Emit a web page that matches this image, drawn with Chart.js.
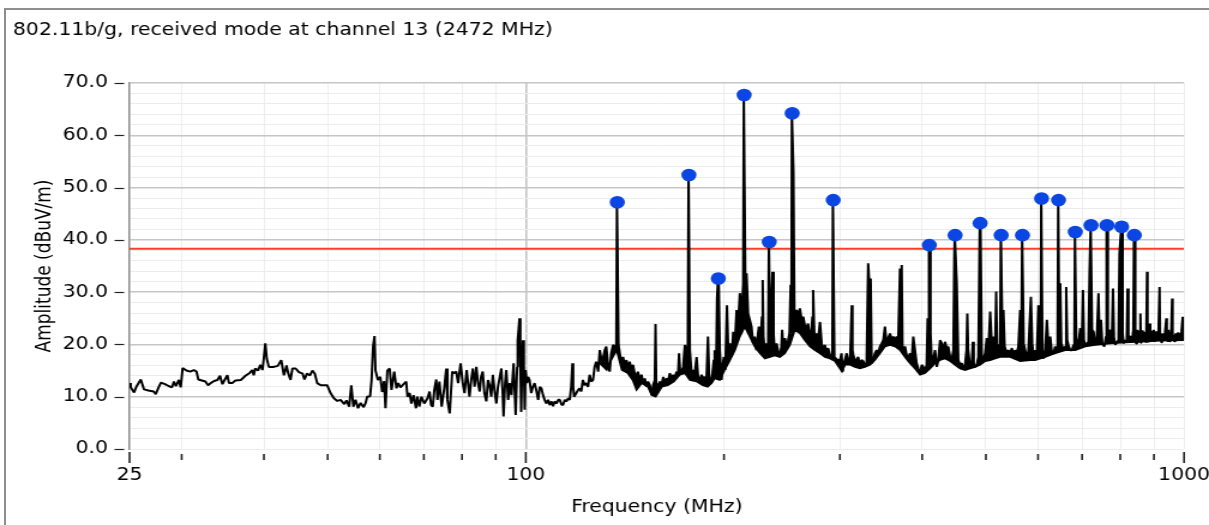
<!DOCTYPE html>
<html>
<head>
<meta charset="utf-8">
<script src="https://cdn.jsdelivr.net/npm/chart.js@4/dist/chart.umd.min.js"></script>
<style>
  html, body { margin: 0; padding: 0; background: #fff; overflow: hidden; }
  #wrap { position: relative; width: 1209px; height: 525px; overflow: hidden; }
  #frame { position: absolute; left: 4px; top: 8px; width: 1230px; height: 540px;
           border-left: 2px solid #8e8e8e; border-top: 2px solid #8e8e8e; }
  canvas { position: absolute; left: 0; top: 0; }
</style>
</head>
<body>
<div id="wrap">
  <div id="frame"></div>
  <canvas id="c" width="1008" height="525" style="width:1209px;height:525px"></canvas>
</div>
<script>
// ---- spectrum data ----
const chartTitle = '802.11b/g, received mode at channel 13 (2472 MHz)';
const xTitle = 'Frequency (MHz)';
const yTitle = 'Amplitude (dBuV/m)';

// measured sweep: frequency (MHz) and level (dBuV/m)
const traceFreq = [
  25.0, 25.1, 25.4, 25.6, 26.0, 26.3, 26.7, 27.2, 27.4, 27.7,
  27.9, 28.3, 28.7, 29.0, 29.2, 29.4, 29.7, 29.9, 30.1, 30.5,
  30.9, 31.3, 31.6, 31.8, 32.2, 32.6, 32.9, 33.3, 33.6, 34.0,
  34.3, 34.6, 34.9, 35.2, 35.4, 35.8, 36.2, 36.9, 37.5, 38.1,
  38.4, 38.6, 38.8, 39.2, 39.5, 39.8, 40.0, 40.2, 40.4, 40.7,
  41.4, 42.0, 42.5, 42.9, 43.3, 43.5, 43.9, 44.2, 44.7, 45.2,
  45.8, 46.1, 46.5, 47.0, 47.4, 47.8, 48.2, 48.8, 49.9, 50.5,
  51.1, 51.7, 52.3, 53.0, 53.4, 53.9, 54.3, 54.7, 55.1, 55.6,
  56.1, 56.7, 57.1, 57.4, 58.0, 58.3, 58.6, 58.9, 59.1, 59.6,
  60.1, 60.5, 60.9, 61.2, 61.6, 62.1, 62.5, 63.1, 63.6, 64.0,
  64.5, 65.2, 65.8, 66.1, 66.6, 67.0, 67.5, 68.1, 68.4, 68.9,
  69.4, 70.1, 70.9, 71.4, 71.8, 72.2, 72.6, 73.1, 73.4, 73.9,
  74.5, 75.2, 75.7, 76.0, 76.6, 77.3, 77.8, 78.4, 78.9, 79.6,
  80.2, 80.7, 81.3, 82.1, 82.6, 83.1, 83.6, 84.1, 84.6, 85.1,
  85.5, 86.0, 86.5, 87.1, 87.6, 88.1, 88.6, 89.1, 89.6, 90.2,
  90.7, 91.2, 91.8, 92.2, 92.5, 93.0, 93.4, 94.0, 94.5, 95.1,
  95.8, 96.5, 97.0, 97.2, 97.5, 97.8, 98.1, 98.4, 98.7, 99.0,
  99.3, 99.6, 99.9, 100.4, 100.8, 101.3, 101.9, 102.5, 103.1, 103.7,
  104.4, 105.0, 105.6, 106.2, 106.8, 107.4, 108.1, 108.7, 109.4, 110.0,
  110.6, 111.3, 112.0, 112.6, 113.3, 113.9, 114.6, 115.2, 116.0, 116.6,
  117.2, 117.7, 118.0, 118.4, 119.3, 120.1, 120.7, 121.4, 122.1, 122.8,
  123.5, 124.3, 125.0, 125.7, 126.5, 127.2, 127.9, 128.8, 129.5, 130.3,
  131.0, 131.8, 132.5, 133.4, 134.1, 134.8, 135.7, 136.4, 137.2, 138.3,
  138.9, 139.7, 140.5, 141.3, 142.2, 142.9, 143.8, 144.7, 145.5, 146.3,
  147.2, 148.0, 149.0, 149.9, 150.7, 151.6, 152.5, 153.3, 154.3, 155.2,
  156.1, 157.0, 157.4, 157.8, 158.8, 159.8, 160.8, 161.7, 162.6, 163.6,
  164.4, 165.5, 166.5, 167.4, 168.4, 169.4, 170.3, 170.9, 171.6, 172.4,
  173.4, 174.4, 175.4, 176.2, 177.5, 178.6, 179.6, 180.6, 181.7, 182.7,
  183.8, 184.9, 185.9, 187.0, 188.1, 189.1, 189.9, 191.0, 192.1, 193.0,
  193.6, 194.5, 195.2, 197.1, 198.3, 199.2, 199.9, 200.9, 202.1, 203.0,
  204.2, 205.4, 206.6, 207.8, 209.0, 210.1, 211.4, 212.7, 213.9, 215.5,
  216.4, 217.6, 218.9, 220.2, 221.4, 222.7, 224.0, 225.3, 226.0, 227.2,
  228.4, 229.0, 229.6, 230.8, 232.1, 233.4, 235.2, 236.2, 237.0, 237.9,
  238.9, 240.3, 241.6, 243.2, 244.5, 245.1, 246.2, 247.5, 248.9, 250.3,
  251.5, 252.5, 253.2, 255.0, 255.9, 257.8, 259.2, 260.8, 262.4, 263.8,
  265.4, 266.9, 268.4, 270.1, 271.7, 272.5, 273.2, 274.1, 274.8, 276.4,
  278.0, 279.8, 281.5, 283.0, 284.7, 286.4, 287.9, 289.7, 291.4, 292.2,
  294.3, 295.8, 297.8, 300.1, 301.7, 302.9, 304.3, 307.2, 308.8, 310.8,
  312.7, 313.5, 314.4, 316.2, 318.1, 319.8, 321.8, 323.7, 325.5, 327.4,
  329.4, 331.2, 332.5, 334.1, 335.3, 337.2, 339.1, 341.1, 343.0, 345.2,
  347.3, 349.2, 351.2, 353.1, 355.2, 357.5, 359.6, 361.6, 363.8, 365.9,
  367.9, 370.2, 371.5, 372.4, 373.4, 374.5, 376.7, 378.9, 381.0, 383.4,
  385.7, 387.8, 390.1, 392.4, 394.6, 397.1, 399.5, 401.7, 404.1, 406.4,
  407.8, 409.0, 412.0, 413.8, 416.1, 418.5, 421.0, 423.3, 425.9, 428.5,
  430.8, 433.4, 435.9, 438.3, 441.1, 443.7, 446.2, 447.7, 451.5, 453.9,
  456.8, 459.5, 462.1, 464.8, 467.2, 468.5, 469.9, 473.1, 475.9, 477.6,
  479.2, 481.4, 484.2, 486.9, 492.9, 495.7, 498.6, 501.5, 504.3, 507.5,
  510.5, 513.4, 516.4, 518.2, 519.9, 522.2, 525.5, 529.7, 531.6, 533.8,
  537.8, 540.8, 544.3, 547.6, 550.6, 553.8, 557.1, 560.1, 563.7, 566.1,
  570.6, 573.6, 576.9, 580.1, 585.2, 587.9, 590.6, 594.0, 597.5, 600.8,
  603.2, 605.7, 609.4, 611.6, 615.2, 618.8, 622.2, 626.1, 629.9, 633.4,
  637.1, 640.8, 642.5, 646.3, 648.5, 650.8, 656.0, 659.8, 662.1, 664.4,
  667.3, 671.6, 675.6, 679.4, 681.5, 685.7, 690.4, 695.5, 699.2, 702.1,
  704.5, 707.7, 711.8, 715.7, 718.6, 724.8, 728.7, 732.9, 736.7, 741.3,
  743.8, 747.8, 751.2, 756.4, 760.9, 766.1, 772.6, 776.7, 779.9, 782.6,
  786.1, 790.8, 795.1, 797.8, 806.6, 809.5, 814.2, 818.4, 820.7, 823.2,
  828.7, 833.7, 837.4, 843.2, 845.5, 848.2, 850.5, 852.8, 855.5, 858.3,
  859.8, 861.3, 864.8, 868.3, 870.8, 873.3, 876.0, 878.5, 880.0, 881.5,
  884.0, 886.3, 888.4, 890.5, 892.8, 895.1, 897.1, 899.2, 901.8, 904.5,
  907.6, 910.7, 914.3, 917.9, 919.7, 921.5, 923.8, 926.1, 928.7, 931.3,
  935.6, 939.9, 941.5, 943.2, 945.2, 947.3, 950.3, 953.4, 956.2, 959.1,
  960.8, 962.5, 966.3, 970.1, 973.0, 975.8, 978.4, 981.1, 983.6, 986.2,
  990.8, 995.4, 996.7, 998.0, 1000
];
const traceLevel = [
  12.6, 11.8, 10.8, 11.9, 13.3, 11.4, 11.2, 11.0, 10.5, 11.9,
  12.7, 12.4, 12.0, 11.8, 12.9, 12.0, 13.2, 11.8, 15.5, 15.0,
  14.8, 15.1, 14.8, 13.3, 13.1, 12.9, 12.2, 12.7, 13.0, 13.2,
  14.0, 12.4, 13.3, 14.1, 12.6, 12.6, 13.1, 13.2, 14.0, 14.6,
  15.1, 14.1, 15.4, 15.0, 16.1, 15.1, 17.5, 20.2, 17.3, 15.7,
  15.7, 15.9, 17.0, 14.1, 16.0, 14.7, 13.2, 15.4, 15.4, 14.7,
  14.4, 13.3, 14.4, 14.1, 15.0, 14.4, 12.6, 12.2, 12.2, 10.7,
  9.7, 9.2, 9.4, 8.6, 9.3, 8.1, 12.2, 8.1, 9.4, 7.8,
  8.8, 8.0, 8.8, 10.0, 10.1, 13.2, 19.6, 21.6, 15.0, 13.2,
  13.8, 10.9, 13.0, 7.8, 15.0, 15.4, 11.3, 14.8, 11.6, 12.6,
  11.8, 12.4, 12.9, 10.0, 10.7, 8.7, 10.3, 7.8, 10.0, 8.1,
  10.0, 8.7, 9.7, 11.0, 8.4, 8.1, 11.3, 13.3, 9.4, 12.9,
  8.1, 11.8, 15.4, 9.4, 6.8, 14.8, 14.5, 14.8, 12.6, 16.4,
  12.6, 10.7, 15.1, 10.0, 13.2, 15.4, 11.9, 15.7, 12.6, 11.0,
  13.8, 14.8, 10.7, 9.1, 13.2, 12.2, 10.0, 14.2, 11.3, 8.7,
  11.9, 13.5, 15.4, 10.7, 6.2, 12.6, 15.1, 9.4, 12.6, 10.3,
  16.4, 6.5, 15.7, 20.8, 22.8, 25.0, 15.7, 7.1, 15.7, 20.8,
  15.7, 7.5, 15.1, 12.6, 13.8, 13.2, 10.7, 11.9, 12.6, 11.3,
  9.4, 11.9, 11.6, 10.3, 9.4, 8.7, 9.4, 8.4, 9.1, 8.2,
  9.1, 8.7, 9.4, 9.4, 8.5, 8.4, 9.4, 9.1, 9.7, 9.4,
  11.9, 16.4, 11.9, 10.0, 10.7, 11.3, 11.6, 11.0, 13.2, 12.2,
  12.6, 11.9, 14.2, 12.9, 13.2, 15.7, 16.7, 14.8, 18.9, 17.0,
  17.3, 18.9, 19.6, 15.7, 14.8, 18.3, 19.9, 19.6, 18.9, 19.9,
  18.3, 16.4, 17.6, 16.1, 17.0, 15.4, 16.7, 15.1, 16.1, 14.5,
  13.8, 14.8, 13.2, 14.2, 12.6, 13.5, 11.9, 12.9, 12.2, 10.3,
  12.2, 13.2, 23.9, 12.6, 11.9, 12.9, 12.2, 13.8, 12.6, 13.5,
  12.9, 14.5, 13.2, 14.2, 13.5, 14.8, 14.2, 18.3, 14.5, 14.8,
  15.7, 19.9, 18.9, 18.9, 18.9, 14.2, 15.1, 14.5, 17.6, 13.8,
  13.2, 14.2, 13.5, 13.8, 13.2, 21.5, 13.8, 12.6, 14.5, 17.0,
  18.9, 13.8, 28.8, 18.9, 13.2, 16.1, 17.6, 15.1, 27.5, 18.9,
  20.2, 17.6, 22.4, 20.2, 26.6, 23.4, 29.8, 25.6, 31.7, 31.7,
  33.6, 25.9, 24.7, 23.4, 20.2, 21.5, 18.9, 22.1, 23.4, 19.6,
  25.3, 32.3, 21.5, 18.6, 20.2, 19.6, 18.9, 28.5, 33.9, 22.1,
  18.3, 20.2, 18.9, 17.6, 19.6, 22.8, 18.9, 21.2, 19.6, 20.8,
  22.1, 31.4, 22.1, 53.0, 24.0, 26.6, 25.3, 26.9, 24.7, 25.3,
  23.7, 23.1, 24.0, 21.5, 22.8, 25.3, 30.4, 23.4, 20.2, 22.1,
  20.8, 24.3, 20.2, 18.9, 19.9, 18.3, 19.3, 18.0, 17.6, 18.6,
  17.6, 17.3, 17.0, 17.0, 18.3, 14.8, 16.4, 18.3, 17.0, 16.4,
  27.5, 18.9, 18.0, 17.0, 17.0, 17.6, 16.1, 17.0, 16.8, 16.1,
  16.4, 35.5, 31.7, 32.6, 16.4, 17.0, 18.3, 18.9, 18.3, 19.6,
  20.2, 20.8, 23.4, 20.2, 21.2, 22.1, 20.8, 21.5, 20.8, 21.5,
  20.8, 34.5, 27.2, 35.2, 19.6, 18.9, 19.6, 18.0, 17.3, 18.3,
  17.0, 21.5, 18.9, 16.4, 15.4, 14.5, 16.1, 15.7, 14.8, 16.1,
  25.0, 23.7, 22.1, 16.4, 17.3, 18.9, 15.7, 17.0, 20.8, 20.2,
  18.9, 20.5, 19.3, 19.6, 17.6, 17.0, 18.9, 36.8, 31.7, 17.0,
  16.1, 16.4, 15.4, 16.1, 18.9, 25.9, 18.9, 15.7, 16.4, 20.5,
  16.4, 15.7, 16.1, 17.6, 17.0, 17.3, 18.3, 21.2, 18.9, 26.3,
  19.6, 21.5, 18.9, 30.1, 20.2, 18.9, 20.2, 22.1, 26.6, 19.6,
  18.3, 18.9, 18.3, 19.3, 18.0, 18.9, 18.3, 19.6, 26.6, 19.6,
  20.2, 18.9, 17.0, 18.9, 29.1, 20.2, 17.6, 18.9, 18.3, 27.5,
  19.6, 18.9, 18.9, 17.3, 18.9, 24.7, 19.6, 21.5, 18.3, 18.3,
  19.6, 18.9, 22.1, 21.5, 31.7, 20.2, 18.9, 19.6, 31.0, 20.8,
  19.9, 18.9, 18.9, 19.9, 22.1, 21.2, 19.6, 23.1, 19.9, 30.4,
  20.8, 19.9, 20.2, 20.5, 34.2, 22.8, 22.4, 20.2, 20.5, 29.8,
  21.5, 24.7, 20.2, 19.6, 21.5, 21.5, 22.8, 20.5, 30.7, 21.2,
  19.9, 20.5, 20.8, 37.4, 22.1, 20.2, 20.8, 20.5, 30.7, 21.5,
  21.5, 20.8, 22.8, 22.4, 20.2, 22.8, 20.4, 20.8, 22.6, 25.9,
  20.3, 21.2, 22.7, 20.6, 22.4, 21.5, 20.3, 33.9, 21.0, 22.1,
  20.4, 24.0, 20.5, 21.5, 22.6, 20.6, 22.4, 22.8, 20.5, 21.2,
  22.5, 20.8, 22.3, 31.0, 20.9, 21.8, 20.4, 22.1, 20.7, 21.2,
  22.3, 25.0, 20.8, 21.8, 20.5, 22.8, 20.6, 21.5, 22.4, 28.8,
  20.9, 21.8, 20.6, 22.1, 20.8, 21.2, 22.3, 20.9, 22.2, 21.2,
  22.4, 25.3, 20.9, 21.5, 21.5
];

// lower edge of the dense noise floor above 129 MHz
const floorFreq  = [
  129.5, 132.7, 135.0, 137.4, 139.9, 142.8, 145.3, 147.3, 150.0, 153.2,
  155.4, 157.5, 160.9, 164.3, 167.8, 171.4, 174.4, 177.5, 181.8, 185.7,
  188.9, 191.6, 193.6, 197.1, 200.5, 204.2, 207.8, 211.4, 215.1, 218.9,
  222.7, 226.8, 230.8, 234.8, 238.9, 243.2, 247.5, 251.9, 256.3, 260.8,
  265.4, 270.1, 274.8, 279.8, 284.7, 289.7, 294.8, 302.2, 305.4, 310.8,
  316.2, 321.8, 327.4, 333.3, 339.1, 345.2, 351.2, 357.5, 363.8, 370.2,
  376.7, 383.4, 390.1, 397.1, 404.1, 411.3, 418.5, 425.9, 433.4, 441.1,
  448.8, 456.8, 464.8, 473.1, 481.4, 490.0, 498.6, 507.5, 516.4, 525.5,
  544.3, 563.7, 583.8, 594.0, 615.2, 637.1, 659.8, 683.4, 707.7, 732.9,
  772.6, 814.2, 858.3, 920.6, 1000
];
const floorLevel = [
  16.4, 15.1, 17.2, 18.9, 15.1, 14.5, 13.2, 11.3, 12.6, 11.9,
  10.3, 10.0, 11.9, 12.2, 12.9, 14.2, 14.5, 13.2, 12.9, 12.2,
  11.9, 12.6, 13.5, 13.2, 15.1, 17.0, 18.9, 21.5, 23.4, 21.5,
  19.6, 18.3, 17.3, 17.6, 17.9, 17.6, 18.3, 19.9, 22.8, 22.1,
  20.8, 19.6, 18.9, 18.3, 17.6, 17.3, 16.8, 14.8, 16.1, 16.1,
  15.7, 15.4, 15.7, 16.1, 17.0, 18.3, 19.6, 19.9, 19.6, 18.9,
  17.6, 16.4, 15.4, 14.2, 14.5, 15.4, 16.4, 17.0, 17.3, 16.8,
  16.1, 15.4, 15.1, 15.4, 15.7, 16.1, 16.8, 17.0, 17.3, 17.6,
  17.6, 16.8, 17.0, 17.0, 17.6, 18.3, 18.9, 18.9, 19.6, 19.9,
  20.2, 20.4, 20.5, 20.7, 20.8
];

// marked emission peaks
const peakFreq  = [137.7, 176.9, 196.1, 214.6, 234.3, 253.9, 293.1, 410.2, 448.9, 490.0,
                   527.4, 568.2, 607.4, 644.6, 683.5, 722.1, 763.5, 803.9, 840.3];
const peakLevel = [47.2, 52.4, 32.6, 67.7, 39.6, 64.2, 47.6, 39.0, 40.9, 43.2,
                   40.9, 40.9, 47.9, 47.6, 41.5, 42.8, 42.8, 42.5, 40.9];

// limit line level
const limitLevel = 38.3;

// axes
const freqRange = [25, 1000];
const freqTicks = [25, 30, 40, 50, 60, 70, 80, 90, 100, 200, 300, 400, 500, 600, 700, 800, 900, 1000];
const freqTickLabels = [25, 100, 1000];
const levelRange = [0, 70];
const levelMajorTicks = [0, 10, 20, 30, 40, 50, 60, 70];
const levelMinorStep = 2;

// ---- build datasets ----
const FONT = 'DejaVu Sans';
const STEM_HALF_WIDTH = 0.0012;   // relative half width of a peak stem top
const spectrum = traceFreq.map((f, i) => ({ x: f, y: traceLevel[i] }));
peakFreq.forEach((f, i) => {
  spectrum.push({ x: f * (1 - STEM_HALF_WIDTH), y: peakLevel[i] });
  spectrum.push({ x: f * (1 + STEM_HALF_WIDTH), y: peakLevel[i] });
});
spectrum.sort((a, b) => a.x - b.x);
const floorEdge = floorFreq.map((f, i) => ({ x: f, y: floorLevel[i] }));
const peaks = peakFreq.map((f, i) => ({ x: f, y: peakLevel[i] }));
const limitLine = freqRange.map(f => ({ x: f, y: limitLevel }));
const levelGrid = [];
for (let v = levelRange[0]; v <= levelRange[1]; v += levelMinorStep) levelGrid.push(v);

// title in the top-left corner
const cornerTitle = {
  id: 'cornerTitle',
  afterDraw(chart) {
    const ctx = chart.ctx;
    ctx.save();
    ctx.font = `17px "${FONT}"`;
    ctx.fillStyle = '#000';
    ctx.textBaseline = 'middle';
    ctx.textAlign = 'left';
    ctx.fillText(chartTitle, 10.8, 31);
    ctx.restore();
  }
};

// detached tick marks outside the plot area
const tickMarks = {
  id: 'tickMarks',
  afterDraw(chart) {
    const { ctx, chartArea, scales: { x, y } } = chart;
    ctx.save();
    ctx.strokeStyle = '#222';
    ctx.lineWidth = 1.2;
    levelMajorTicks.forEach(v => {
      const py = Math.round(y.getPixelForValue(v)) + 0.5;
      ctx.beginPath();
      ctx.moveTo(chartArea.left - 12.5, py);
      ctx.lineTo(chartArea.left - 4.5, py);
      ctx.stroke();
    });
    ctx.lineWidth = 1.6;
    freqTicks.forEach(v => {
      const px = x.getPixelForValue(v);
      const major = freqTickLabels.includes(v);
      ctx.beginPath();
      ctx.moveTo(px, chartArea.bottom + (major ? 3 : 5));
      ctx.lineTo(px, chartArea.bottom + (major ? 14 : 11));
      ctx.stroke();
    });
    ctx.restore();
  }
};

Chart.defaults.font.family = FONT;
Chart.defaults.color = '#000';

new Chart(document.getElementById('c'), {
  type: 'line',
  data: {
    datasets: [
      { label: 'Peaks', data: peaks, showLine: false, pointRadius: 6.3, pointHoverRadius: 6.3,
        pointBackgroundColor: '#0b46e3', pointBorderWidth: 0, order: 0 },
      { label: 'Spectrum', data: spectrum, borderColor: '#000', borderWidth: 2,
        borderJoinStyle: 'bevel', pointRadius: 0, tension: 0, order: 1 },
      { label: 'Limit', data: limitLine, borderColor: '#ff3b2f', borderWidth: 2,
        pointRadius: 0, order: 3 },
      { label: 'Noise floor', data: floorEdge, borderColor: '#000', borderWidth: 1.6,
        backgroundColor: '#000', fill: 1, pointRadius: 0, tension: 0, order: 2 }
    ]
  },
  options: {
    responsive: false,
    devicePixelRatio: 1,
    animation: false,
    events: [],
    layout: { padding: { top: 83, right: 20.8, bottom: 0, left: 0 } },
    plugins: { legend: { display: false }, tooltip: { enabled: false }, filler: { propagate: false } },
    scales: {
      x: {
        type: 'logarithmic',
        min: freqRange[0], max: freqRange[1],
        afterBuildTicks: s => { s.ticks = freqTicks.map(v => ({ value: v })); },
        afterFit: s => { s.height = 76; s.paddingLeft = 0; s.paddingRight = 0; },
        ticks: {
          autoSkip: false, maxRotation: 0, padding: 16,
          font: { size: 17 }, color: '#000',
          callback: v => freqTickLabels.includes(v) ? String(v) : ''
        },
        grid: {
          drawTicks: false,
          color: c => c.tick.value === 100 ? '#c4c4c4' : (c.tick.value === 25 ? 'rgba(0,0,0,0)' : '#eeeeee'),
          lineWidth: c => c.tick.value === 100 ? 1.6 : 1
        },
        border: { display: false },
        title: { display: true, text: xTitle, font: { size: 17 }, color: '#000',
                 padding: { top: 0, bottom: 7 } }
      },
      y: {
        min: levelRange[0], max: levelRange[1],
        afterBuildTicks: s => { s.ticks = levelGrid.map(v => ({ value: v })); },
        afterFit: s => { s.width = 108; s.paddingTop = 0; s.paddingBottom = 0; },
        ticks: {
          autoSkip: false, padding: 18, font: { size: 17 }, color: '#000',
          callback: v => (v % 10 === 0 ? v.toFixed(1) : '')
        },
        grid: {
          drawTicks: false,
          color: c => (c.tick.value % 10 === 0 && c.tick.value !== 0) ? '#c6c6c6' : '#ececec',
          lineWidth: c => (c.tick.value % 10 === 0 && c.tick.value !== 0) ? 1.5 : 1
        },
        border: { display: true, color: '#8c8c8c', width: 1.5 },
        title: { display: true, text: yTitle, font: { size: 17 }, color: '#000',
                 padding: { top: 27, bottom: 0 } }
      }
    }
  },
  plugins: [cornerTitle, tickMarks]
});
</script>
</body>
</html>
